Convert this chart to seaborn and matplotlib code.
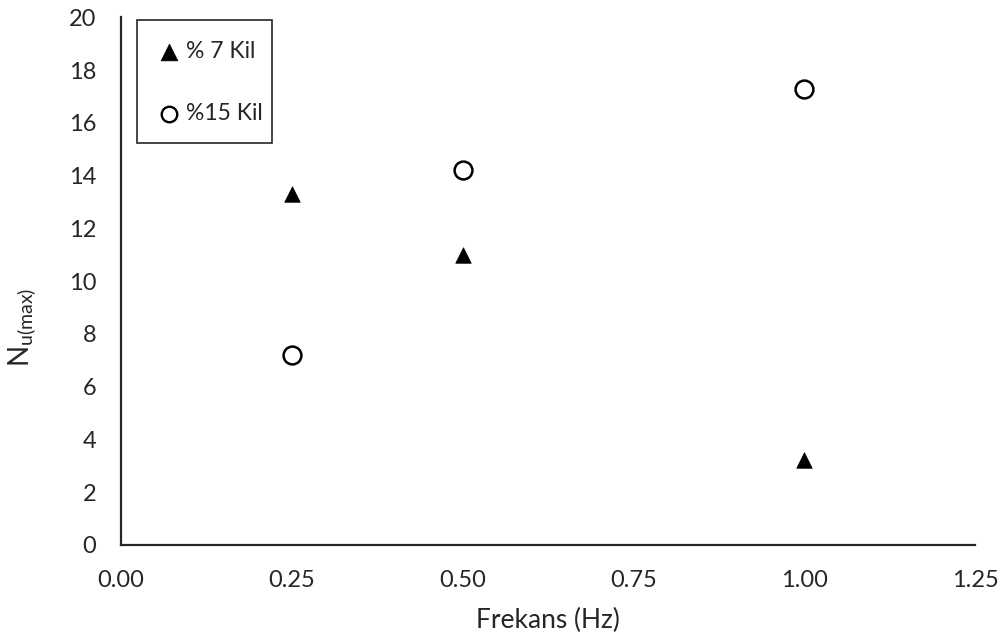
import pandas as pd
import matplotlib
matplotlib.use("Agg")
import matplotlib.pyplot as plt
from matplotlib.patches import Rectangle
import seaborn as sns

# data
freq = [0.25, 0.50, 1.00]
kil7 = [13.3, 11.0, 3.2]
kil15 = [7.2, 14.2, 17.3]
series_names = ["% 7 Kil", "%15 Kil"]

df = pd.DataFrame({
    "Frekans": freq * 2,
    "N": kil7 + kil15,
    "seri": [series_names[0]] * 3 + [series_names[1]] * 3,
})

sns.set_theme(style="white")
plt.rcParams["font.family"] = ["Lato", "DejaVu Sans"]
plt.rcParams["mathtext.fontset"] = "custom"
plt.rcParams["mathtext.rm"] = "Lato"
plt.rcParams["mathtext.it"] = "Lato"

txt = "#262626"
fig = plt.figure(figsize=(10.01, 6.41), dpi=100)
ax = fig.add_axes([0.121, 0.150, 0.853, 0.823])

tri = df[df["seri"] == series_names[0]]
circ = df[df["seri"] == series_names[1]]
sns.scatterplot(data=tri, x="Frekans", y="N", marker="^", s=125, color="black",
                edgecolor="black", linewidth=0.5, label=series_names[0], ax=ax)
sns.scatterplot(data=circ, x="Frekans", y="N", marker="o", s=165, facecolor="white",
                edgecolor="black", linewidth=1.8, label=series_names[1], ax=ax)

ax.set_xlim(0, 1.25)
ax.set_ylim(0, 20)
ax.set_xticks([0, 0.25, 0.5, 0.75, 1.0, 1.25])
ax.set_xticklabels(["0.00", "0.25", "0.50", "0.75", "1.00", "1.25"])
ax.set_yticks(range(0, 21, 2))

for side in ["top", "right"]:
    ax.spines[side].set_visible(False)
for side in ["left", "bottom"]:
    ax.spines[side].set_color(txt)
    ax.spines[side].set_linewidth(1.6)

ax.tick_params(axis="both", direction="out", length=6, width=1.6, color=txt,
               labelsize=17, labelcolor=txt)
ax.tick_params(axis="y", pad=12)
ax.tick_params(axis="x", pad=12)

ax.set_xlabel("Frekans (Hz)", fontsize=19, color=txt, labelpad=12)
ax.set_ylabel(r"$\mathregular{N_{u(max)}}$", fontsize=20, color=txt)
ax.yaxis.set_label_coords(-0.097, 0.413)

# legend without its own frame, a plain box drawn round it like the original
leg = ax.legend(loc="upper left", bbox_to_anchor=(158 / 1001, 1 - 41 / 641),
                bbox_transform=fig.transFigure, frameon=False, fontsize=16.5,
                labelspacing=1.8, handletextpad=0.2, borderpad=0.0,
                handlelength=1.0, borderaxespad=0.0)
for t in leg.get_texts():
    t.set_color(txt)
leg.legend_handles[0].set_sizes([145])
leg.legend_handles[1].set_sizes([125])
leg.legend_handles[1].set_linewidth(1.7)

fig.patches.append(Rectangle((137 / 1001, 1 - 143 / 641), 135 / 1001, 123 / 641,
                             transform=fig.transFigure, fill=False,
                             edgecolor=txt, linewidth=1.2, zorder=5))

fig.savefig("out.png", dpi=100)
